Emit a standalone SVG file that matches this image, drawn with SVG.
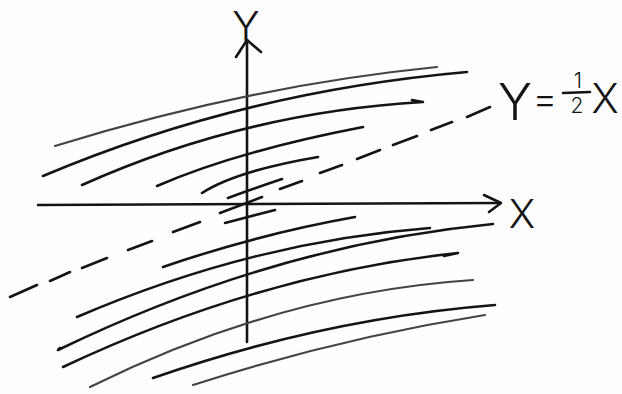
<svg xmlns="http://www.w3.org/2000/svg" width="622" height="394" viewBox="0 0 622 394">
<style>
.s{fill:none;stroke:#141414;stroke-width:2.6;stroke-linecap:round;stroke-linejoin:round}
.g{fill:none;stroke:#444;stroke-width:2.2;stroke-linecap:round}
.t{font-family:Inter,"Open Sans","Liberation Sans",sans-serif;font-weight:300;fill:#141414}
</style>
<rect width="622" height="394" fill="#fefefe"/>
<g id="axes">
<path class="s" d="M247 40 L247 342"/>
<path class="s" d="M236 57 L247 40 L261 52"/>
<path class="s" d="M38 205 L500 203"/>
<path class="s" d="M484 195 L501 203 L489 212"/>
<text class="t" x="246" y="41" font-size="41" text-anchor="middle">Y</text>
<text class="t" x="522" y="228" font-size="40" text-anchor="middle">X</text>
</g>
<g id="dashed-line">
<path class="s" d="M10 297 L37 285 M50 281 L70 272 M82 268 L107 258 M128 250 L152 241 M173 232 L200 222 M220 213 L262 197 M280 189 L302 181 M320 173 L342 165 M357 159 L380 150 M393 145 L417 136 M431 130 L452 122 M467 117 L490 107"/>
</g>
<g id="label">
<text class="t" x="515" y="120" font-size="51" text-anchor="middle">Y</text>
<text class="t" x="545" y="112" font-size="38" text-anchor="middle">=</text>
<text class="t" x="578" y="88" font-size="21" text-anchor="middle">1</text>
<path class="s" d="M563 93 L590 92"/>
<text class="t" x="577" y="113" font-size="21" text-anchor="middle">2</text>
<text class="t" x="605" y="113" font-size="41" text-anchor="middle">X</text>
</g>
<g id="hatching">
<path class="g" d="M55 146 Q250 85.5 437 67"/>
<path class="s" d="M43 176 Q241 92 467 72"/>
<path class="s" d="M82 185 Q243.5 112.5 423 102 L412 100"/>
<path class="s" d="M157 186 Q236 151.5 363 127"/>
<path class="s" d="M202 193 Q236 171 318 157"/>
<path class="s" d="M228 198 Q255 188 282 179"/>
<path class="s" d="M225 223 L275 210"/>
<path class="s" d="M163 267 Q259 234 355 217"/>
<path class="s" d="M77 317 Q252.5 241.5 430 228"/>
<path class="s" d="M60 348 L58 350 Q275 245 493 224"/>
<path class="s" d="M63 367 Q260 274 458 253 L444 256"/>
<path class="g" d="M90 387 Q281 292.5 473 280"/>
<path class="s" d="M153 378 Q324 318.5 495 305"/>
<path class="g" d="M193 385 Q339 338 485 315"/>
</g>
</svg>
